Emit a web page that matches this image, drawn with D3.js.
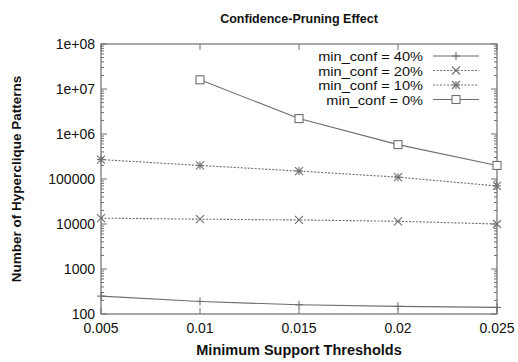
<!DOCTYPE html>
<html><head><meta charset="utf-8">
<script src="https://cdn.jsdelivr.net/npm/d3@7"></script>
<style>body{margin:0;background:#fff;}text{font-family:"Liberation Sans",Arial,sans-serif;}</style>
</head><body><svg id="c" width="518" height="362"></svg>
<script>
const supports = [0.005, 0.01, 0.015, 0.02, 0.025];
const conf40 = [250, 190, 160, 148, 140];
const conf20 = [13500, 12800, 12300, 11500, 10000];
const conf10 = [270000, 200000, 150000, 110000, 70000];
const conf0 = [null, 16000000, 2200000, 580000, 200000];
const seriesNames = ["min_conf = 40%", "min_conf = 20%", "min_conf = 10%", "min_conf = 0%"];
const markers = ["plus", "cross", "star", "square"];
const dashes = [null, "2,1.5", "2,1.5", null];
const xTicks = [0.005, 0.01, 0.015, 0.02, 0.025];
const yTicks = [100, 1000, 10000, 100000, 1000000, 10000000, 100000000];
const yTickLabels = ["100", "1000", "10000", "100000", "1e+06", "1e+07", "1e+08"];

const svg = d3.select("#c");
const L = 101, R = 497, T = 44, B = 314;
const x = d3.scaleLinear().domain([0.005, 0.025]).range([L, R]);
const y = d3.scaleLog().domain([100, 1e8]).range([B, T]);
const lineCol = "#6e6e6e";
const txtCol = "#111";

svg.append("rect").attr("x", L).attr("y", T).attr("width", R - L).attr("height", B - T)
  .attr("fill", "none").attr("stroke", lineCol).attr("stroke-width", 1.2);

const minors = [];
for (let e = 2; e < 8; e++) for (let m = 2; m <= 9; m++) minors.push(m * Math.pow(10, e));
const tg = svg.append("g").attr("stroke", lineCol).attr("stroke-width", 1);
minors.forEach(v => {
  tg.append("line").attr("x1", L).attr("x2", L + 3).attr("y1", y(v)).attr("y2", y(v));
  tg.append("line").attr("x1", R).attr("x2", R - 3).attr("y1", y(v)).attr("y2", y(v));
});
yTicks.forEach(v => {
  tg.append("line").attr("x1", L).attr("x2", L + 6).attr("y1", y(v)).attr("y2", y(v));
  tg.append("line").attr("x1", R).attr("x2", R - 6).attr("y1", y(v)).attr("y2", y(v));
});
xTicks.forEach(v => {
  tg.append("line").attr("x1", x(v)).attr("x2", x(v)).attr("y1", B).attr("y2", B - 6);
  tg.append("line").attr("x1", x(v)).attr("x2", x(v)).attr("y1", T).attr("y2", T + 6);
});

yTicks.forEach((v, i) => {
  svg.append("text").attr("x", L - 6).attr("y", y(v) + 5).attr("text-anchor", "end")
    .attr("font-size", 14).attr("fill", txtCol).text(yTickLabels[i]);
});
xTicks.forEach(v => {
  svg.append("text").attr("x", x(v)).attr("y", B + 19).attr("text-anchor", "middle")
    .attr("font-size", 14).attr("fill", txtCol).text(String(v));
});

svg.append("text").attr("x", (L + R) / 2).attr("y", 23).attr("text-anchor", "middle")
  .attr("font-size", 12.5).attr("font-weight", "bold").attr("fill", txtCol).text("Confidence-Pruning Effect");
svg.append("text").attr("x", (L + R) / 2).attr("y", 355).attr("text-anchor", "middle")
  .attr("font-size", 14.5).attr("font-weight", "bold").attr("fill", txtCol).text("Minimum Support Thresholds");
svg.append("text").attr("transform", `translate(21,${(T + B) / 2}) rotate(-90)`).attr("text-anchor", "middle")
  .attr("font-size", 13.5).attr("font-weight", "bold").attr("fill", txtCol).text("Number of Hyperclique Patterns");

function marker(g, kind, cx, cy) {
  const s = 4;
  if (kind === "plus") {
    g.append("line").attr("x1", cx - s).attr("x2", cx + s).attr("y1", cy).attr("y2", cy);
    g.append("line").attr("x1", cx).attr("x2", cx).attr("y1", cy - s).attr("y2", cy + s);
  } else if (kind === "cross") {
    g.append("line").attr("x1", cx - s).attr("x2", cx + s).attr("y1", cy - s).attr("y2", cy + s);
    g.append("line").attr("x1", cx - s).attr("x2", cx + s).attr("y1", cy + s).attr("y2", cy - s);
  } else if (kind === "star") {
    g.append("line").attr("x1", cx - s).attr("x2", cx + s).attr("y1", cy).attr("y2", cy);
    g.append("line").attr("x1", cx).attr("x2", cx).attr("y1", cy - s).attr("y2", cy + s);
    g.append("line").attr("x1", cx - s).attr("x2", cx + s).attr("y1", cy - s).attr("y2", cy + s);
    g.append("line").attr("x1", cx - s).attr("x2", cx + s).attr("y1", cy + s).attr("y2", cy - s);
  } else {
    g.append("rect").attr("x", cx - s).attr("y", cy - s).attr("width", 2 * s).attr("height", 2 * s)
      .attr("fill", "#fff");
  }
}

const allSeries = [conf40, conf20, conf10, conf0];
const line = d3.line().defined(d => d[1] != null).x(d => x(d[0])).y(d => y(d[1]));
allSeries.forEach((vals, i) => {
  const pts = supports.map((s, j) => [s, vals[j]]);
  const g = svg.append("g").attr("stroke", lineCol).attr("stroke-width", 1.1).attr("fill", "none");
  g.append("path").attr("d", line(pts)).attr("stroke-dasharray", dashes[i]);
  pts.filter(p => p[1] != null).forEach(p => marker(g, markers[i], x(p[0]), y(p[1])));
});

const legY0 = 56, legDy = 14.5;
seriesNames.forEach((name, i) => {
  const ly = legY0 + i * legDy;
  const t = svg.append("text").attr("x", 423).attr("y", ly + 5).attr("text-anchor", "end")
    .attr("font-size", 13).attr("fill", txtCol).text(name);
  const w = t.node().getComputedTextLength();
  t.attr("textLength", w * 1.12).attr("lengthAdjust", "spacingAndGlyphs");
  const g = svg.append("g").attr("stroke", lineCol).attr("stroke-width", 1.1).attr("fill", "none");
  g.append("line").attr("x1", 433).attr("x2", 479).attr("y1", ly).attr("y2", ly).attr("stroke-dasharray", dashes[i]);
  marker(g, markers[i], 456, ly);
});
</script></body></html>
